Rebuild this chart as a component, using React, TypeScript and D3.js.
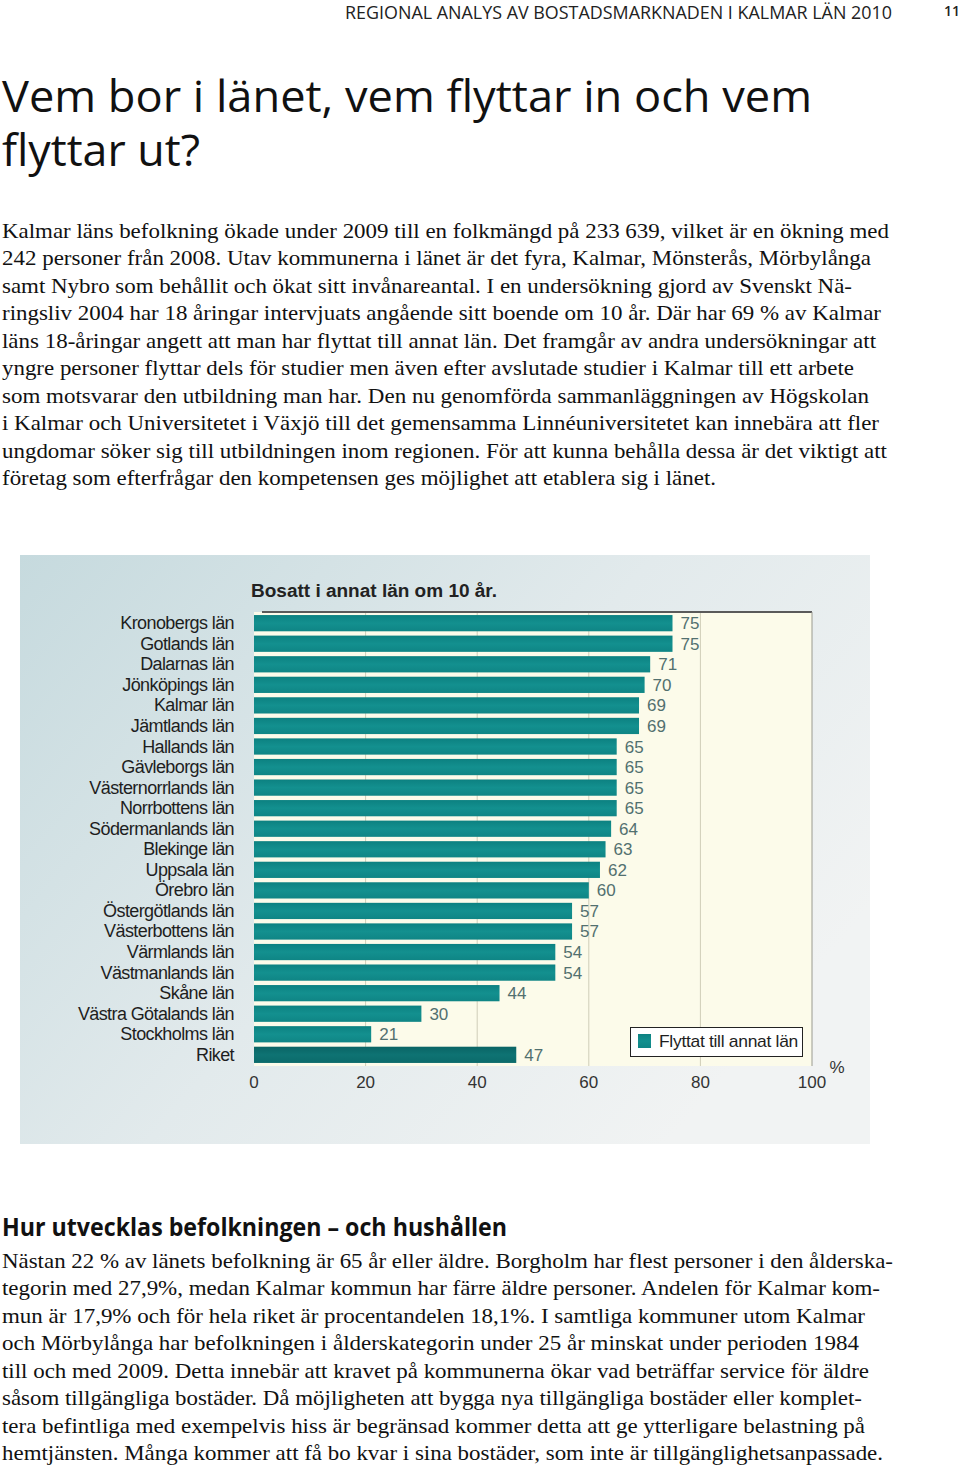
import React from "react";
import * as d3 from "d3";

const headerText = "REGIONAL ANALYS AV BOSTADSMARKNADEN I KALMAR LÄN 2010";
const pageNumber = "11";
const titleLines = ["Vem bor i länet, vem flyttar in och vem", "flyttar ut?"];
const titleWidths = [810, 198];
const bodyLines1 = [
  "Kalmar läns befolkning ökade under 2009 till en folkmängd på 233 639, vilket är en ökning med",
  "242 personer från 2008. Utav kommunerna i länet är det fyra, Kalmar, Mönsterås, Mörbylånga",
  "samt Nybro som behållit och ökat sitt invånareantal. I en undersökning gjord av Svenskt Nä-",
  "ringsliv 2004 har 18 åringar intervjuats angående sitt boende om 10 år. Där har 69 % av Kalmar",
  "läns 18-åringar angett att man har flyttat till annat län. Det framgår av andra undersökningar att",
  "yngre personer flyttar dels för studier men även efter avslutade studier i Kalmar till ett arbete",
  "som motsvarar den utbildning man har. Den nu genomförda sammanläggningen av Högskolan",
  "i Kalmar och Universitetet i Växjö till det gemensamma Linnéuniversitetet kan innebära att fler",
  "ungdomar söker sig till utbildningen inom regionen. För att kunna behålla dessa är det viktigt att",
  "företag som efterfrågar den kompetensen ges möjlighet att etablera sig i länet.",
];
const bodyWidths1 = [887, 869, 850, 879, 874, 852, 867, 877, 885, 714];
const heading2 = "Hur utvecklas befolkningen – och hushållen";
const bodyLines2 = [
  "Nästan 22 % av länets befolkning är 65 år eller äldre. Borgholm har flest personer i den ålderska-",
  "tegorin med 27,9%, medan Kalmar kommun har färre äldre personer. Andelen för Kalmar kom-",
  "mun är 17,9% och för hela riket är procentandelen 18,1%. I samtliga kommuner utom Kalmar",
  "och Mörbylånga har befolkningen i ålderskategorin under 25 år minskat under perioden 1984",
  "till och med 2009. Detta innebär att kravet på kommunerna ökar vad beträffar service för äldre",
  "såsom tillgängliga bostäder. Då möjligheten att bygga nya tillgängliga bostäder eller komplet-",
  "tera befintliga med exempelvis hiss är begränsad kommer detta att ge ytterligare belastning på",
  "hemtjänsten. Många kommer att få bo kvar i sina bostäder, som inte är tillgänglighetsanpassade.",
];
const bodyWidths2 = [891, 878, 863, 857, 867, 860, 863, 881];

const chartTitle = "Bosatt i annat län om 10 år.";
const categories = [
  "Kronobergs län", "Gotlands län", "Dalarnas län", "Jönköpings län", "Kalmar län",
  "Jämtlands län", "Hallands län", "Gävleborgs län", "Västernorrlands län", "Norrbottens län",
  "Södermanlands län", "Blekinge län", "Uppsala län", "Örebro län", "Östergötlands län",
  "Västerbottens län", "Värmlands län", "Västmanlands län", "Skåne län", "Västra Götalands län",
  "Stockholms län", "Riket",
];
const values = [75, 75, 71, 70, 69, 69, 65, 65, 65, 65, 64, 63, 62, 60, 57, 57, 54, 54, 44, 30, 21, 47];
const xTicks = [0, 20, 40, 60, 80, 100];
const gridTicks = [20, 40, 60, 80];
const legendLabel = "Flyttat till annat län";
const unitLabel = "%";

export default function App() {
  const x = d3.scaleLinear().domain([0, 100]).range([254, 812]);
  const y = d3.scaleBand<string>().domain(categories).range([613, 1065]).paddingInner(0.21).paddingOuter(0.1);
  const plotTop = 612;
  const plotBottom = 1066;
  const serif = "'Liberation Serif', 'Times New Roman', serif";
  const sans = "'Open Sans', 'Noto Sans', sans-serif";
  const arial = "'Liberation Sans', Arial, sans-serif";

  return (
    <div style={{ position: "absolute", left: 0, top: 0 }}>
      <svg width={960} height={1468} style={{ display: "block", background: "#fff" }}>
        <defs>
          <linearGradient id="panelGrad" x1="0" y1="0" x2="1" y2="0.6">
            <stop offset="0" stopColor="#c6dade" />
            <stop offset="0.55" stopColor="#e2eaec" />
            <stop offset="1" stopColor="#f1f3f3" />
          </linearGradient>
          <linearGradient id="barGrad" x1="0" y1="0" x2="0" y2="1">
            <stop offset="0" stopColor="#0c8181" />
            <stop offset="0.5" stopColor="#13908f" />
            <stop offset="1" stopColor="#0f8585" />
          </linearGradient>
          <linearGradient id="barGradDark" x1="0" y1="0" x2="0" y2="1">
            <stop offset="0" stopColor="#0a6465" />
            <stop offset="0.5" stopColor="#0e7373" />
            <stop offset="1" stopColor="#0b6a6a" />
          </linearGradient>
        </defs>

        {/* Header */}
        <text x={345} y={19} fontFamily={sans} fontSize={18} fill="#222" textLength={547} lengthAdjust="spacingAndGlyphs">
          {headerText}
        </text>
        <text x={944} y={16} fontFamily={sans} fontSize={14} fontWeight="600" fill="#222">
          {pageNumber}
        </text>

        {/* Title */}
        {titleLines.map((t, i) => (
          <text key={i} x={2} y={112 + i * 54} fontFamily={sans} fontSize={43} fill="#111" textLength={titleWidths[i]} lengthAdjust="spacingAndGlyphs">
            {t}
          </text>
        ))}

        {/* Body 1 */}
        {bodyLines1.map((t, i) => (
          <text key={i} x={2} y={238 + i * 27.45} fontFamily={serif} fontSize={21} fill="#111" textLength={bodyWidths1[i]} lengthAdjust="spacingAndGlyphs">
            {t}
          </text>
        ))}

        {/* Chart panel */}
        <rect x={20} y={555} width={850} height={589} fill="url(#panelGrad)" />
        <text x={251} y={597} fontFamily={arial} fontSize={18} fontWeight="bold" fill="#222" textLength={246} lengthAdjust="spacingAndGlyphs">
          {chartTitle}
        </text>

        {/* Plot area */}
        <rect x={x(0)} y={plotTop} width={x(100) - x(0)} height={plotBottom - plotTop} fill="#fcfbea" />
        {gridTicks.map((t) => (
          <line key={t} x1={x(t)} x2={x(t)} y1={plotTop} y2={plotBottom} stroke="#cfcdb8" strokeWidth={1} />
        ))}
        <line x1={262} x2={x(100)} y1={plotTop} y2={plotTop} stroke="#5a5a5a" strokeWidth={2} />
        <line x1={x(100)} x2={x(100)} y1={plotTop} y2={plotBottom} stroke="#9a9a90" strokeWidth={1} />

        {/* Bars */}
        {categories.map((c, i) => {
          const yy = y(c) as number;
          const isRiket = c === "Riket";
          return (
            <g key={c}>
              <rect x={x(0)} y={yy} width={x(values[i]) - x(0)} height={y.bandwidth()} fill={isRiket ? "url(#barGradDark)" : "url(#barGrad)"} />
              <text x={x(values[i]) + 8} y={yy + y.bandwidth() / 2 + 6} fontFamily={arial} fontSize={17} fill="#52706f">
                {values[i]}
              </text>
              <text x={234} y={yy + y.bandwidth() / 2 + 6} textAnchor="end" fontFamily={arial} fontSize={18} letterSpacing={-0.6} fill="#1e1e1e">
                {c}
              </text>
            </g>
          );
        })}

        {/* X axis labels */}
        {xTicks.map((t) => (
          <text key={t} x={x(t)} y={1088} textAnchor="middle" fontFamily={arial} fontSize={17} fill="#333">
            {t}
          </text>
        ))}
        <text x={837} y={1073} textAnchor="middle" fontFamily={arial} fontSize={17} fill="#333">
          {unitLabel}
        </text>

        {/* Legend */}
        <rect x={630.5} y={1027.5} width={172} height={29} fill="#fff" stroke="#222" strokeWidth={1} />
        <rect x={638} y={1034} width={13} height={14} fill="url(#barGrad)" />
        <text x={659} y={1047} fontFamily={arial} fontSize={17} letterSpacing={-0.3} fill="#1e1e1e" textLength={139} lengthAdjust="spacingAndGlyphs">
          {legendLabel}
        </text>

        {/* Heading 2 */}
        <text x={2} y={1236} fontFamily={sans} fontSize={25} fontWeight="bold" fill="#111" textLength={505} lengthAdjust="spacingAndGlyphs">
          {heading2}
        </text>

        {/* Body 2 */}
        {bodyLines2.map((t, i) => (
          <text key={i} x={2} y={1268 + i * 27.45} fontFamily={serif} fontSize={21} fill="#111" textLength={bodyWidths2[i]} lengthAdjust="spacingAndGlyphs">
            {t}
          </text>
        ))}
      </svg>
    </div>
  );
}
